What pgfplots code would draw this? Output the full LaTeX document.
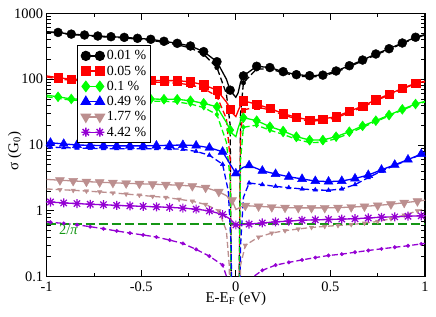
\documentclass[border=0pt]{standalone}
\usepackage{fontspec}
\setmainfont{Liberation Serif}
\usepackage{pgfplots}
\usepackage{pgfplotstable}
\pgfplotsset{compat=1.18}
\definecolor{cbrown}{RGB}{188,143,143}
\definecolor{cpurple}{RGB}{148,0,211}
\definecolor{cgreen}{RGB}{0,255,0}
\definecolor{dgreen}{RGB}{20,150,20}
\pgfdeclareplotmark{star8}{%
 \pgfpathmoveto{\pgfqpoint{-\pgfplotmarksize}{0pt}}\pgfpathlineto{\pgfqpoint{\pgfplotmarksize}{0pt}}%
 \pgfpathmoveto{\pgfqpoint{0pt}{-\pgfplotmarksize}}\pgfpathlineto{\pgfqpoint{0pt}{\pgfplotmarksize}}%
 \pgfpathmoveto{\pgfqpoint{-0.707\pgfplotmarksize}{-0.707\pgfplotmarksize}}\pgfpathlineto{\pgfqpoint{0.707\pgfplotmarksize}{0.707\pgfplotmarksize}}%
 \pgfpathmoveto{\pgfqpoint{-0.707\pgfplotmarksize}{0.707\pgfplotmarksize}}\pgfpathlineto{\pgfqpoint{0.707\pgfplotmarksize}{-0.707\pgfplotmarksize}}%
 \pgfusepathqstroke}

\pgfplotstableread{
x s d ms md
-1.00 525 518 0 0
-0.94 512 505 1 1
-0.87 483 476 1 1
-0.80 468 460 1 1
-0.73 452 444 1 1
-0.66 441 432 1 1
-0.59 431 421 1 1
-0.52 417 406 1 1
-0.45 403 390 1 1
-0.38 376 362 1 1
-0.31 350 333 1 1
-0.24 319 298 1 1
-0.17 262 238 1 1
-0.10 184 150 1 1
-0.05 100 60 0 0
-0.03 68 20 1 0
-0.02 62 0.001 0 0
0.00 53 0.001 0 0
0.012 62 0.001 0 0
0.025 90 30 0 0
0.04 112 88 1 1
0.11 157 143 1 1
0.18 150 143 1 1
0.25 130 125 1 1
0.32 117 112 1 1
0.39 113 108 1 1
0.46 115 111 1 1
0.53 133 128 1 1
0.60 160 155 1 1
0.67 195 189 1 1
0.74 241 234 1 1
0.81 290 283 1 1
0.88 354 346 1 1
0.95 433 425 1 1
1.00 475 468 0 0
}\tblack

\pgfplotstableread{
x s d ms md
-1.00 112 108 0 0
-0.94 105 101 1 1
-0.87 100 96 1 1
-0.80 99 95 1 1
-0.73 98 94 1 1
-0.66 98 94 1 1
-0.59 97 93 1 1
-0.52 97 92 1 1
-0.45 96 91 1 1
-0.38 95 89 1 1
-0.31 95 87 1 1
-0.24 91 82 1 1
-0.17 82 72 1 1
-0.10 68 55 1 1
-0.05 45 25 0 0
-0.03 35 6 1 0
-0.02 31 0.001 0 0
0.00 27 0.001 0 0
0.012 33 0.001 0 0
0.025 40 15 0 0
0.04 47 34 1 1
0.11 41.5 38 1 1
0.18 36 34 1 1
0.25 30 28.5 1 1
0.32 26.3 25 1 1
0.39 24 23 1 1
0.46 24.8 23.6 1 1
0.53 27 26 1 1
0.60 32.5 31 1 1
0.67 39 37.5 1 1
0.74 48.7 47 1 1
0.81 59 57.5 1 1
0.88 72.6 71 1 1
0.95 86.5 85 1 1
1.00 93 91 0 0
}\tred

\pgfplotstableread{
x s d ms md
-1.00 57 54 0 0
-0.94 54 51 1 1
-0.87 50 48 1 1
-0.80 50 48 1 1
-0.73 50 47.5 1 1
-0.66 50 47 1 1
-0.59 50 47 1 1
-0.52 50 47 1 1
-0.45 50 46.5 1 1
-0.38 49.5 46 1 1
-0.31 49.4 45 1 1
-0.24 47 42 1 1
-0.17 43 37 1 1
-0.10 38 29 1 1
-0.05 22 11 0 0
-0.03 16.9 3 1 0
-0.02 15 0.001 0 0
0.00 13.4 0.001 0 0
0.012 18 0.001 0 0
0.025 23 6 0 0
0.04 26 18.6 1 1
0.11 23.4 20 1 1
0.18 19 16.8 1 1
0.25 16.3 14.5 1 1
0.32 13.4 12.2 1 1
0.39 11.9 10.9 1 1
0.46 11.9 11.0 1 1
0.53 13.4 12.5 1 1
0.60 15.9 15 1 1
0.67 19.5 18.6 1 1
0.74 23.4 22.6 1 1
0.81 28.5 27.7 1 1
0.88 34.8 34 1 1
0.95 41.9 41 1 1
1.00 46 45 0 0
}\tgreen

\pgfplotstableread{
x s d ms md
-1.00 11.0 9.4 0 0
-0.98 10.8 9.3 1 1
-0.91 10.4 9.1 1 1
-0.84 10.0 9.0 1 1
-0.77 9.9 8.9 1 1
-0.70 9.8 8.8 1 1
-0.63 9.7 8.8 1 1
-0.56 9.7 8.8 1 1
-0.49 9.7 8.8 1 1
-0.42 9.8 8.8 1 1
-0.35 9.9 8.8 1 1
-0.28 10.0 8.6 1 1
-0.21 9.8 8.0 1 1
-0.14 9.1 7.0 1 1
-0.07 7.9 5.1 1 1
-0.04 5.7 2.0 0 0
-0.025 4.85 0.3 0 0
-0.015 4.35 0.001 0 0
0.00 3.7 0.001 1 0
0.015 4.0 0.001 0 0
0.025 4.3 0.3 0 0
0.04 4.6 1.6 0 0
0.07 4.9 2.65 1 1
0.14 4.07 2.5 1 1
0.21 3.63 2.35 1 1
0.28 3.3 2.25 1 1
0.35 3.05 2.15 1 1
0.42 2.84 2.08 1 1
0.49 2.78 2.05 1 1
0.56 2.84 2.15 1 1
0.63 3.1 2.5 1 1
0.70 3.5 3.2 1 1
0.77 4.2 4.0 1 1
0.84 5.0 4.9 1 1
0.91 6.0 5.9 1 1
0.98 7.3 7.2 1 1
1.00 7.7 7.6 0 0
}\tblue

\pgfplotstableread{
x s d ms md
-1.00 3.0 2.15 0 0
-0.93 2.92 2.1 1 1
-0.86 2.85 2.05 1 1
-0.79 2.78 2.0 1 1
-0.72 2.72 1.94 1 1
-0.65 2.67 1.88 1 1
-0.58 2.62 1.80 1 1
-0.51 2.58 1.73 1 1
-0.44 2.54 1.66 1 1
-0.37 2.50 1.60 1 1
-0.30 2.45 1.50 1 1
-0.23 2.38 1.40 1 1
-0.16 2.25 1.25 1 1
-0.09 1.95 1.0 1 1
-0.05 1.7 0.5 0 0
-0.035 1.55 0.15 0 0
-0.02 1.45 0.001 1 0
0.00 1.05 0.001 0 0
0.015 1.1 0.001 0 0
0.025 1.15 0.15 0 0
0.05 1.2 0.30 1 1
0.12 1.17 0.40 1 1
0.19 1.14 0.46 1 1
0.26 1.12 0.50 1 1
0.33 1.11 0.53 1 1
0.40 1.11 0.56 1 1
0.47 1.11 0.58 1 1
0.54 1.12 0.60 1 1
0.61 1.14 0.62 1 1
0.68 1.17 0.65 1 1
0.75 1.21 0.69 1 1
0.82 1.26 0.76 1 1
0.89 1.33 0.86 1 1
0.96 1.40 1.0 1 1
1.00 1.45 1.08 0 0
}\tbrown

\pgfplotstableread{
x s d ms md
-1.00 1.38 0.68 0 0
-0.98 1.36 0.67 1 1
-0.91 1.32 0.645 1 1
-0.84 1.29 0.615 1 1
-0.77 1.26 0.575 1 1
-0.70 1.24 0.535 1 1
-0.63 1.21 0.495 1 1
-0.56 1.19 0.46 1 1
-0.49 1.17 0.43 1 1
-0.42 1.15 0.40 1 1
-0.35 1.13 0.36 1 1
-0.28 1.10 0.32 1 1
-0.21 1.06 0.26 1 1
-0.14 1.0 0.205 1 1
-0.07 0.88 0.15 1 1
-0.03 0.75 0.07 0 0
0.00 0.61 0.001 1 0
0.02 0.615 0.001 0 0
0.045 0.62 0.05 0 0
0.07 0.63 0.09 1 1
0.14 0.655 0.125 1 1
0.21 0.68 0.15 1 1
0.28 0.70 0.165 1 1
0.35 0.72 0.18 1 1
0.42 0.73 0.195 1 1
0.49 0.74 0.21 1 1
0.56 0.75 0.22 1 1
0.63 0.76 0.235 1 1
0.70 0.78 0.25 1 1
0.77 0.80 0.265 1 1
0.84 0.81 0.28 1 1
0.91 0.83 0.295 1 1
0.98 0.84 0.315 1 1
1.00 0.845 0.32 0 0
}\tpurple

\begin{document}
\begin{tikzpicture}
\begin{axis}[
  at={(0,0)}, anchor=south west,
  scale only axis, width=378.3bp, height=263.4bp,
  ymode=log, xmin=-1, xmax=1, ymin=0.1, ymax=1000,
  xtick={-1,-0.5,0,0.5,1}, xticklabels={-1,-0.5,0,0.5,1},
  minor xtick={-0.75,-0.25,0.25,0.75},
  ytick={0.1,1,10,100,1000}, yticklabels={0.1,1,10,100,1000},
  minor ytick={0.2,0.3,0.4,0.5,0.6,0.7,0.8,0.9,2,3,4,5,6,7,8,9,20,30,40,50,60,70,80,90,200,300,400,500,600,700,800,900},
  tick align=inside,
  major tick length=7bp, minor tick length=4bp,
  every tick/.style={black, line width=0.9bp},
  axis line style={line width=1.2bp},
  tick label style={font=\fontsize{14.5}{16}\selectfont},
  yticklabel style={inner sep=0bp, xshift=-3.4bp},
  xticklabel style={inner sep=0bp, yshift=-4.8bp},
  label style={font=\fontsize{15}{17}\selectfont},
  xlabel={E-E\textsubscript{F} (eV)},
  ylabel={σ (G\textsubscript{0})},
  xlabel style={at={(axis description cs:0.5,-0.098)}, anchor=base},
  ylabel style={at={(axis description cs:-0.075,0.477)}, anchor=base},
  legend image code/.code={\path (-5bp,0bp) (19bp,0bp); \draw[#1] plot coordinates {(0bp,0bp) (14bp,0bp)};},
  legend style={at={(rel axis cs:0.0793,0.8797)}, anchor=north west, draw=black, line width=1bp,
    font=\fontsize{14}{14}\selectfont, inner xsep=3bp, inner ysep=3.7bp, row sep=1.9bp,
    nodes={inner sep=1.3bp}},
  legend cell align=left,
  solidp/.style={line width=1.3bp},
  dashp/.style={line width=1.3bp, dash pattern=on 6bp off 3bp},
]
% dashed companions
\addplot[black, dashp, no markers, forget plot] table[x=x,y=d] {\tblack};
\addplot[black, only marks, mark=*, mark size=2.3pt, forget plot, restrict expr to domain={\thisrow{md}}{0.5:1.5}] table[x=x,y=d] {\tblack};
\addplot[red, dashp, no markers, forget plot] table[x=x,y=d] {\tred};
\addplot[red, only marks, mark=square*, mark size=2.2pt, forget plot, restrict expr to domain={\thisrow{md}}{0.5:1.5}] table[x=x,y=d] {\tred};
\addplot[cgreen, dashp, no markers, forget plot] table[x=x,y=d] {\tgreen};
\addplot[cgreen, only marks, mark=diamond*, mark size=2.6pt, forget plot, restrict expr to domain={\thisrow{md}}{0.5:1.5}] table[x=x,y=d] {\tgreen};
\addplot[blue, dashp, no markers, forget plot] table[x=x,y=d] {\tblue};
\addplot[blue, only marks, mark=triangle*, mark size=2.6pt, forget plot, restrict expr to domain={\thisrow{md}}{0.5:1.5}] table[x=x,y=d] {\tblue};
\addplot[cbrown, dashp, no markers, forget plot] table[x=x,y=d] {\tbrown};
\addplot[cbrown, only marks, mark=triangle*, mark size=2.6pt, mark options={rotate=180}, forget plot, restrict expr to domain={\thisrow{md}}{0.5:1.5}] table[x=x,y=d] {\tbrown};
\addplot[cpurple, dashp, no markers, forget plot] table[x=x,y=d] {\tpurple};
\addplot[cpurple, only marks, mark=*, mark size=1.8pt, forget plot, restrict expr to domain={\thisrow{md}}{0.5:1.5}] table[x=x,y=d] {\tpurple};
% 2/pi line
\addplot[dgreen, line width=1.6bp, dash pattern=on 9bp off 4bp, no markers, forget plot] coordinates {(-1,0.6366) (1,0.6366)};
% solid
\addplot[black, solidp, no markers, forget plot] table[x=x,y=s] {\tblack};
\addplot[black, only marks, mark=*, mark size=4.5pt, forget plot, restrict expr to domain={\thisrow{ms}}{0.5:1.5}] table[x=x,y=s] {\tblack};
\addplot[red, solidp, no markers, forget plot] table[x=x,y=s] {\tred};
\addplot[red, only marks, mark=square*, mark size=4.2pt, forget plot, restrict expr to domain={\thisrow{ms}}{0.5:1.5}] table[x=x,y=s] {\tred};
\addplot[cgreen, solidp, no markers, forget plot] table[x=x,y=s] {\tgreen};
\addplot[cgreen, only marks, mark=diamond*, mark size=5pt, forget plot, restrict expr to domain={\thisrow{ms}}{0.5:1.5}] table[x=x,y=s] {\tgreen};
\addplot[blue, solidp, no markers, forget plot] table[x=x,y=s] {\tblue};
\addplot[blue, only marks, mark=triangle*, mark size=5.2pt, forget plot, restrict expr to domain={\thisrow{ms}}{0.5:1.5}] table[x=x,y=s] {\tblue};
\addplot[cbrown, solidp, no markers, forget plot] table[x=x,y=s] {\tbrown};
\addplot[cbrown, only marks, mark=triangle*, mark size=5.2pt, mark options={rotate=180}, forget plot, restrict expr to domain={\thisrow{ms}}{0.5:1.5}] table[x=x,y=s] {\tbrown};
\addplot[cpurple, solidp, no markers, forget plot] table[x=x,y=s] {\tpurple};
\addplot[cpurple, only marks, mark=star8, mark size=4.5pt, mark options={line width=1.2bp}, forget plot, restrict expr to domain={\thisrow{ms}}{0.5:1.5}] table[x=x,y=s] {\tpurple};
\node[dgreen, anchor=base west, inner sep=0pt, font=\fontsize{14.5}{16}\selectfont] at (axis cs:-0.935,0.445) {2/\textit{π}};
% legend
\addlegendimage{black, line width=1.3bp, mark=*, mark size=4.5pt}
\addlegendentry{0.01 \%}
\addlegendimage{red, line width=1.3bp, mark=square*, mark size=4.2pt}
\addlegendentry{0.05 \%}
\addlegendimage{cgreen, line width=1.3bp, mark=diamond*, mark size=5pt}
\addlegendentry{0.1 \%}
\addlegendimage{blue, line width=1.3bp, mark=triangle*, mark size=5.2pt}
\addlegendentry{0.49 \%}
\addlegendimage{cbrown, line width=1.3bp, mark=triangle*, mark size=5.2pt, mark options={rotate=180}}
\addlegendentry{1.77 \%}
\addlegendimage{cpurple, line width=1.3bp, mark=star8, mark size=4.5pt}
\addlegendentry{4.42 \%}
\end{axis}
\pgfresetboundingbox
\useasboundingbox (-46.7bp,-40.3bp) rectangle (389.3bp,276.7bp);
\end{tikzpicture}
\end{document}
